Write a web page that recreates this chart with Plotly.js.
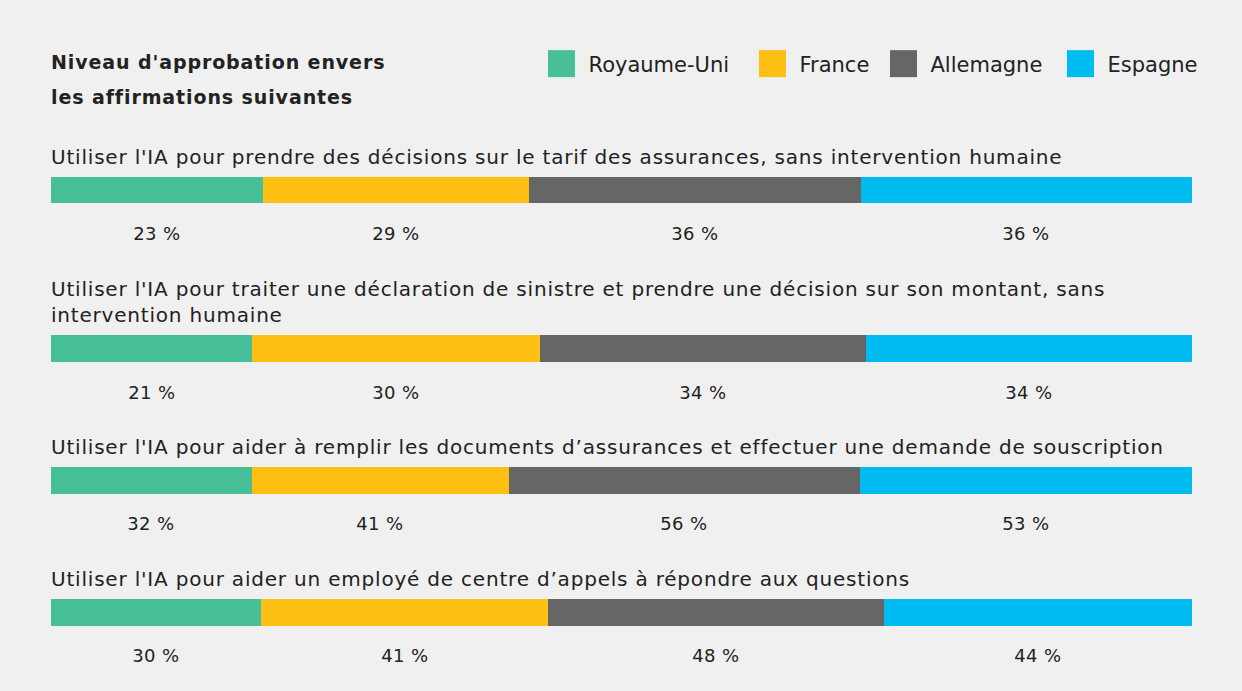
<!DOCTYPE html>
<html>
<head>
<meta charset="utf-8">
<script src="https://cdn.plot.ly/plotly-3.0.1.min.js"></script>
<style>
html,body{margin:0;padding:0;background:#f0f0f0;}
#chart{width:1242px;height:691px;}
</style>
</head>
<body>
<div id="chart"></div>
<script>
const chartTitle = "Niveau d'approbation envers<br>les affirmations suivantes";
const questions = [
  "Utiliser l'IA pour prendre des décisions sur le tarif des assurances, sans intervention humaine",
  "Utiliser l'IA pour traiter une déclaration de sinistre et prendre une décision sur son montant, sans<br>intervention humaine",
  "Utiliser l'IA pour aider à remplir les documents d’assurances et effectuer une demande de souscription",
  "Utiliser l'IA pour aider un employé de centre d’appels à répondre aux questions"
];
const countries = ["Royaume-Uni", "France", "Allemagne", "Espagne"];
const royaumeUni = [23, 21, 32, 30];
const france     = [29, 30, 41, 41];
const allemagne  = [36, 34, 56, 48];
const espagne    = [36, 34, 53, 44];

const series = [royaumeUni, france, allemagne, espagne];
const colors = ["#47BF98", "#FDBF11", "#666666", "#00BBF0"];
const domains = [[0.7062, 0.7439], [0.4761, 0.5152], [0.2851, 0.3242], [0.0941, 0.1331]];
const legendSquareLeft = [548, 759, 890, 1067];
const FONT = "DejaVu Sans, Noto Sans, sans-serif";
const TXT = "#222222";

const traces = [];
const annotations = [];
const annKind = [];
const layout = {
  width: 1242, height: 691,
  paper_bgcolor: "#f0f0f0", plot_bgcolor: "#f0f0f0",
  margin: {l: 51, r: 50, t: 0, b: 0, pad: 0},
  barmode: "stack", barnorm: "percent",
  font: {family: FONT, size: 19, color: TXT},
  title: {
    text: chartTitle,
    x: 0, xref: "paper", xanchor: "left",
    y: 1 - 69.35 / 691, yref: "container", yanchor: "middle",
    font: {family: FONT, size: 19, color: TXT, weight: "bold"}
  },
  showlegend: true,
  legend: {
    orientation: "h", x: 0.98, xanchor: "right", xref: "paper",
    y: 1 - 64 / 691, yanchor: "middle", yref: "paper",
    font: {family: FONT, size: 21, color: TXT},
    bgcolor: "rgba(0,0,0,0)", traceorder: "normal"
  },
  xaxis: {range: [0, 100], visible: false, fixedrange: true},
  annotations: annotations
};

questions.forEach((q, qi) => {
  const yName = qi === 0 ? "y" : "y" + (qi + 1);
  const axKey = qi === 0 ? "yaxis" : "yaxis" + (qi + 1);
  layout[axKey] = {
    domain: domains[qi], anchor: "x", type: "category",
    range: [-0.5, 0.5], visible: false, fixedrange: true
  };
  const total = series.reduce((s, arr) => s + arr[qi], 0);
  let cum = 0;
  series.forEach((arr, ci) => {
    const v = arr[qi];
    traces.push({
      type: "bar", orientation: "h",
      x: [v], y: [q],
      xaxis: "x", yaxis: yName,
      name: countries[ci], legendgroup: countries[ci],
      showlegend: qi === 0,
      width: 1,
      marker: {color: colors[ci], line: {width: 0}},
      hovertemplate: countries[ci] + ": " + v + " %<extra></extra>"
    });
    annotations.push({
      xref: "x", yref: yName,
      x: (cum + v / 2) / total * 100, y: -0.5,
      xanchor: "center", yanchor: "middle", yshift: -30,
      text: v + " %", showarrow: false,
      font: {family: FONT, size: 18, color: TXT}
    });
    annKind.push("label");
    cum += v;
  });
  annotations.push({
    xref: "paper", yref: yName,
    x: 0, y: 0.5, xanchor: "left", yanchor: "bottom", yshift: 6, xshift: -2,
    align: "left", text: q, showarrow: false,
    font: {family: FONT, size: 20, color: TXT}
  });
  annKind.push("question");
});

Plotly.newPlot("chart", traces, layout, {displayModeBar: false, staticPlot: true}).then(() => {
  const root = document.getElementById("chart");
  root.querySelectorAll(".annotation").forEach(g => {
    const idx = +g.getAttribute("data-index");
    const t = g.querySelector("text");
    if (t) t.style.letterSpacing = annKind[idx] === "question" ? "0.8px" : "0.4px";
  });
  const gt = root.querySelector(".gtitle");
  if (gt) {
    gt.style.letterSpacing = "0.9px";
    const lines = gt.querySelectorAll("tspan.line");
    if (lines.length > 1) lines[1].setAttribute("dy", (35 / 19).toFixed(3) + "em");
  }
  // legend: no clipping, larger swatches, original spacing
  root.querySelectorAll(".legend [clip-path]").forEach(el => el.removeAttribute("clip-path"));
  root.querySelectorAll(".legend").forEach(el => el.removeAttribute("clip-path"));
  const items = root.querySelectorAll(".legend g.traces");
  items.forEach((it, i) => {
    const p = it.querySelector(".legendpoints path");
    if (!p) return;
    p.setAttribute("d", "M6.5,13.5H-20.5V-13.5H6.5Z");
    const r = p.getBoundingClientRect();
    const delta = legendSquareLeft[i] - r.left;
    const tr = it.getAttribute("transform") || "translate(0,0)";
    const m = tr.match(/translate\(\s*([-\d.e]+)[ ,]+([-\d.e]+)\s*\)/);
    const x0 = m ? parseFloat(m[1]) : 0, y0 = m ? parseFloat(m[2]) : 0;
    it.setAttribute("transform", "translate(" + (x0 + delta) + "," + y0 + ")");
  });
});
</script>
</body>
</html>
